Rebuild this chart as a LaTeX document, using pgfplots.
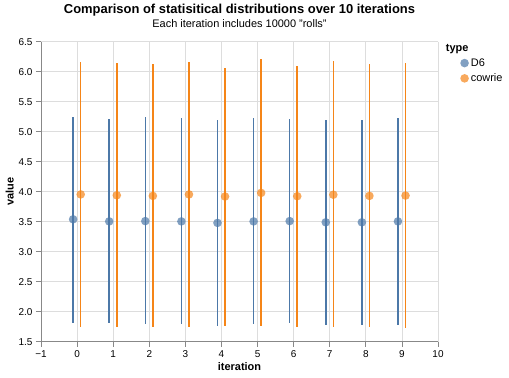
\documentclass[border=0pt]{standalone}
\usepackage{pgfplots}
\pgfplotsset{compat=1.18}
\usepackage{pgfplotstable}
\usepackage{fontspec}
\setmainfont{Liberation Sans}
\definecolor{dsix}{HTML}{4C78A8}
\definecolor{cowrie}{HTML}{F58518}
\definecolor{gridc}{HTML}{DDDDDD}
\definecolor{domc}{HTML}{888888}
\pgfplotstableread{
dx dy dlo dhi cx cy clo chi
-0.11 3.540 1.820 5.245 0.10 3.955 1.750 6.160
0.89 3.505 1.805 5.210 1.10 3.940 1.740 6.150
1.89 3.510 1.790 5.245 2.10 3.930 1.740 6.120
2.89 3.505 1.790 5.220 3.10 3.955 1.740 6.160
3.89 3.480 1.755 5.200 4.10 3.920 1.770 6.060
4.89 3.505 1.790 5.220 5.10 3.980 1.765 6.210
5.89 3.510 1.810 5.210 6.10 3.925 1.740 6.100
6.89 3.490 1.785 5.195 7.10 3.950 1.740 6.170
7.89 3.490 1.780 5.195 8.10 3.930 1.740 6.120
8.89 3.505 1.785 5.230 9.10 3.935 1.730 6.140
}\data
\begin{document}
\begin{tikzpicture}
\begin{axis}[
  scale only axis,
  width=397bp, height=300bp,
  xmin=-1, xmax=10, ymin=1.5, ymax=6.5,
  xtick={-1,0,...,10},
  xticklabels={−1,0,1,2,3,4,5,6,7,8,9,10},
  ytick={1.5,2,...,6.5},
  axis x line*=bottom, axis y line*=left,
  axis line style={draw=domc, line width=0.8bp, -},
  grid=major,
  grid style={draw=gridc, line width=0.8bp},
  tick style={draw=domc, line width=0.8bp},
  tick align=outside,
  major tick length=5bp,
  ticklabel style={font=\fontsize{10}{12}\selectfont},
  /pgf/number format/assume math mode=true,
  y tick label style={/pgf/number format/.cd, fixed, fixed zerofill, precision=1},
  xlabel={\textbf{iteration}},
  ylabel={\textbf{value}},
  label style={font=\fontsize{11}{13}\selectfont},
  xlabel style={yshift=2bp},
  ylabel style={yshift=-2bp},
  legend style={at={(1.045,1.0)}, anchor=north west, draw=none, fill=none,
    font=\fontsize{11}{13}\selectfont, row sep=2bp, inner sep=0pt},
  legend cell align=left,
  clip=false,
]
\addlegendimage{empty legend}
\addlegendentry{\hspace{-25bp}\textbf{type}}
\addplot[color=dsix, only marks, mark=*, mark size=4.3bp,
  mark options={draw opacity=0, fill=dsix, fill opacity=0.7},
  error bars/.cd, y dir=both, y explicit, error mark=none,
  error bar style={draw=dsix, line width=1.5bp}]
  table[x=dx, y=dy, y error plus expr=\thisrow{dhi}-\thisrow{dy}, y error minus expr=\thisrow{dy}-\thisrow{dlo}] {\data};
\addlegendentry{D6}
\addplot[color=cowrie, only marks, mark=*, mark size=4.3bp,
  mark options={draw opacity=0, fill=cowrie, fill opacity=0.7},
  error bars/.cd, y dir=both, y explicit, error mark=none,
  error bar style={draw=cowrie, line width=1.5bp}]
  table[x=cx, y=cy, y error plus expr=\thisrow{chi}-\thisrow{cy}, y error minus expr=\thisrow{cy}-\thisrow{clo}] {\data};
\addlegendentry{cowrie}
\node[anchor=base, font=\bfseries\fontsize{13}{15}\selectfont] at ([yshift=27.7bp]rel axis cs:0.5,1) {Comparison of statisitical distributions over 10 iterations};
\node[anchor=base, font=\fontsize{11}{13}\selectfont] at ([yshift=14bp]rel axis cs:0.5,1) {Each iteration includes 10000 "rolls"};
\end{axis}
\path[use as bounding box] (-41bp,-36.3bp) rectangle (468bp,341.7bp);
\end{tikzpicture}
\end{document}
